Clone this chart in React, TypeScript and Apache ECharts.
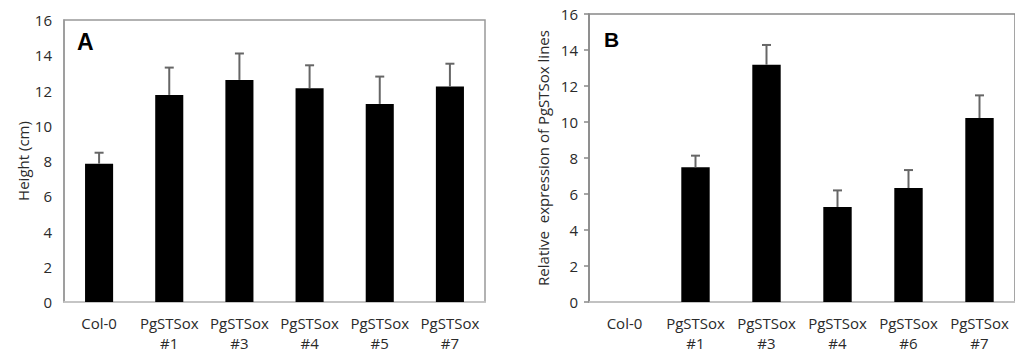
import React, { useEffect, useRef } from "react";
import * as echarts from "echarts";

const categoriesA = ["Col-0", "PgSTSox\n#1", "PgSTSox\n#3", "PgSTSox\n#4", "PgSTSox\n#5", "PgSTSox\n#7"];
const heightValues = [7.85, 11.75, 12.6, 12.13, 11.24, 12.22];
const heightErrors = [0.62, 1.55, 1.5, 1.3, 1.55, 1.3];

const categoriesB = ["Col-0", "PgSTSox\n#1", "PgSTSox\n#3", "PgSTSox\n#4", "PgSTSox\n#6", "PgSTSox\n#7"];
const expressionValues = [0, 7.48, 13.18, 5.28, 6.33, 10.22];
const expressionErrors = [0, 0.65, 1.1, 0.92, 1.0, 1.26];

const yTicks = [0, 2, 4, 6, 8, 10, 12, 14, 16];

const FONT = "Open Sans";

function errorRender(params: any, api: any) {
  const x = api.value(0);
  const y = api.value(1);
  const e = api.value(2);
  if (!e) return { type: "group", children: [] };
  const p0 = api.coord([x, y]);
  const p1 = api.coord([x, y + e]);
  const cap = 4.5;
  const style = { stroke: "#666", lineWidth: 2 };
  return {
    type: "group",
    children: [
      { type: "line", shape: { x1: p0[0], y1: p0[1], x2: p1[0], y2: p1[1] }, style },
      { type: "line", shape: { x1: p1[0] - cap, y1: p1[1], x2: p1[0] + cap, y2: p1[1] }, style },
    ],
  };
}

export default function App() {
  const ref = useRef<HTMLDivElement>(null);
  useEffect(() => {
    if (!ref.current) return;
    const chart = echarts.init(ref.current, undefined, { renderer: "svg" });
    const axisLabelStyle = { color: "#2a2a2a", fontFamily: FONT, fontSize: 15 };
    const xLabel = { ...axisLabelStyle, margin: 11, lineHeight: 20, interval: 0 };
    chart.setOption({
      animation: false,
      backgroundColor: "#fff",
      grid: [
        { left: 64, top: 20, width: 421, height: 283, show: true, borderColor: "#999", borderWidth: 1.5, backgroundColor: "transparent" },
        { left: 589, top: 14, width: 428, height: 288, show: true, borderColor: "#888", borderWidth: 1.5, backgroundColor: "transparent" },
      ],
      xAxis: [
        {
          type: "category", gridIndex: 0, data: categoriesA,
          axisLine: { lineStyle: { color: "#ccc", width: 1.5 } }, axisTick: { show: false },
          axisLabel: xLabel,
        },
        {
          type: "category", gridIndex: 1, data: categoriesB,
          axisLine: { lineStyle: { color: "#ccc", width: 1.5 } }, axisTick: { show: false },
          axisLabel: xLabel,
        },
      ],
      yAxis: [
        {
          type: "value", gridIndex: 0, min: yTicks[0], max: yTicks[yTicks.length - 1], interval: 2,
          splitLine: { show: false },
          axisLine: { show: true, lineStyle: { color: "#999", width: 1.5 } },
          axisTick: { show: false },
          axisLabel: { ...axisLabelStyle, margin: 12 },
          name: "Height (cm)", nameLocation: "middle", nameGap: 34, nameRotate: 90,
          nameTextStyle: { color: "#2a2a2a", fontFamily: FONT, fontSize: 15 },
        },
        {
          type: "value", gridIndex: 1, min: yTicks[0], max: yTicks[yTicks.length - 1], interval: 2,
          splitLine: { show: false },
          axisLine: { show: true, lineStyle: { color: "#888", width: 1.5 } },
          axisTick: { show: true, inside: false, length: 5, lineStyle: { color: "#888", width: 1.5 } },
          axisLabel: { ...axisLabelStyle, margin: 11 },
          name: "Relative  expression of PgSTSox lines", nameLocation: "middle", nameGap: 39, nameRotate: 90,
          nameTextStyle: { color: "#2a2a2a", fontFamily: FONT, fontSize: 15 },
        },
      ],
      series: [
        {
          type: "bar", xAxisIndex: 0, yAxisIndex: 0, data: heightValues,
          barWidth: "40%", itemStyle: { color: "#000" },
        },
        {
          type: "custom", xAxisIndex: 0, yAxisIndex: 0,
          data: heightValues.map((v, i) => [i, v, heightErrors[i]]),
          encode: { x: 0, y: 1 }, renderItem: errorRender, z: 5,
        },
        {
          type: "bar", xAxisIndex: 1, yAxisIndex: 1, data: expressionValues,
          barWidth: "40%", itemStyle: { color: "#000" },
        },
        {
          type: "custom", xAxisIndex: 1, yAxisIndex: 1,
          data: expressionValues.map((v, i) => [i, v, expressionErrors[i]]),
          encode: { x: 0, y: 1 }, renderItem: errorRender, z: 5,
        },
      ],
      graphic: [
        { type: "text", left: 77, top: 30, style: { text: "A", fontFamily: "Liberation Sans", fontWeight: "bold", fontSize: 23, fill: "#000" } },
        { type: "text", left: 604, top: 29, style: { text: "B", fontFamily: "Liberation Sans", fontWeight: "bold", fontSize: 21, fill: "#000" } },
      ],
    });
    return () => chart.dispose();
  }, []);
  return <div ref={ref} style={{ width: 1015, height: 353, position: "absolute", left: 0, top: 0 }} />;
}
